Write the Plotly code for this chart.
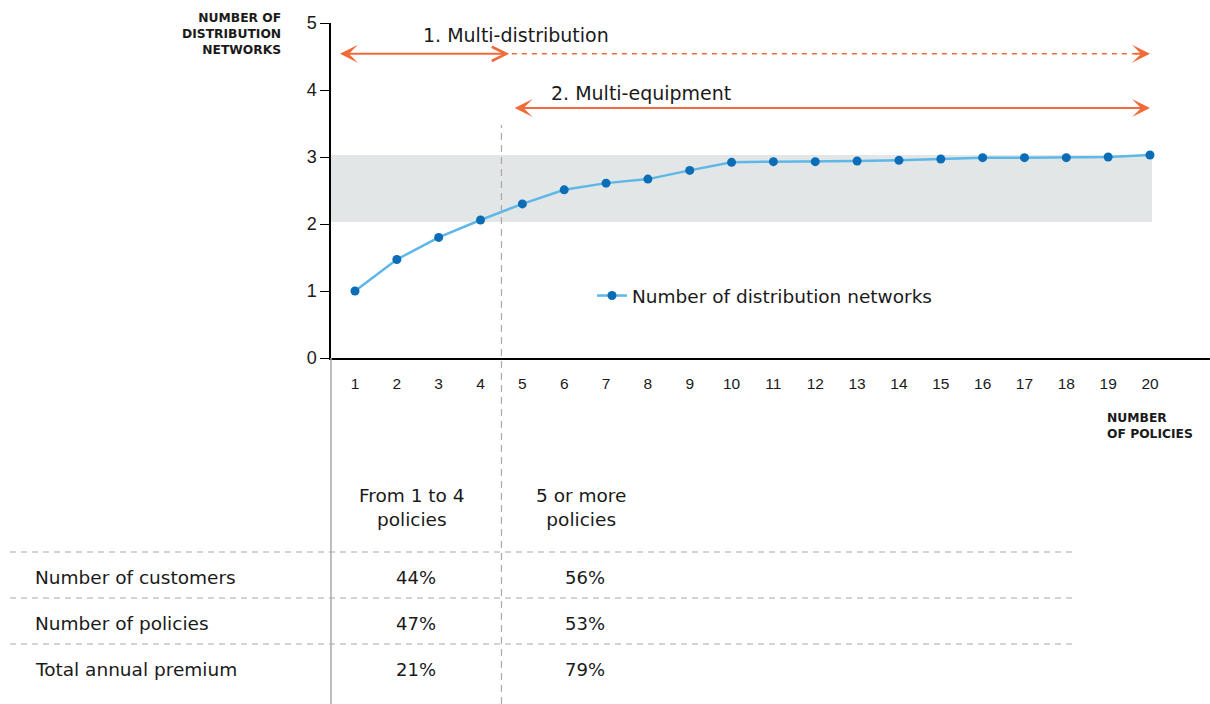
import plotly.graph_objects as go

# ---------------- data ----------------
policies = list(range(1, 21))
networks = [1.00, 1.47, 1.80, 2.06, 2.30, 2.51, 2.61, 2.67, 2.80, 2.92,
            2.93, 2.93, 2.94, 2.95, 2.97, 2.99, 2.99, 2.99, 3.00, 3.03]
series_name = "Number of distribution networks"
band_range = [2.03, 3.03]
split_at = 4.5

row_labels = ["Number of customers", "Number of policies", "Total annual premium"]
col_headers = ["From 1 to 4<br>policies", "5 or more<br>policies"]
col_low = ["44%", "47%", "21%"]
col_high = ["56%", "53%", "79%"]

y_ticks = [0, 1, 2, 3, 4, 5]

FONT = "DejaVu Sans, Verdana, sans-serif"
AXFONT = "Liberation Sans, Arial, Helvetica, sans-serif"
TXT = "#1a1a1a"
ORANGE = "#F26A3A"
LINE = "#5DB7E8"
MARK = "#0A6DB5"

W, H = 1210, 704
L, R, T, B = 331, 0, 23, 346
PW, PH = W - L - R, H - T - B

def px_x(px):
    return (px - L) / PW

def px_y(py):
    return (H - B - py) / PH

fig = go.Figure()

fig.add_trace(go.Scatter(
    x=policies, y=networks, mode="lines+markers", name=series_name,
    line=dict(color=LINE, width=2.5),
    marker=dict(color=MARK, size=9),
))

# gray band
fig.add_shape(type="rect", xref="paper", yref="y", x0=0, x1=px_x(1152),
              y0=band_range[0], y1=band_range[1], fillcolor="#E3E6E7",
              line=dict(width=0), layer="below")

# vertical dashed split line
fig.add_shape(type="line", xref="x", yref="paper", x0=split_at, x1=split_at,
              y0=px_y(704), y1=px_y(125),
              line=dict(color="#A8A8A8", width=1.2, dash="7px,5px"))
# solid gray line continuing the y axis
fig.add_shape(type="line", xref="paper", yref="paper", x0=0, x1=0,
              y0=px_y(704), y1=0, line=dict(color="#A8A8A8", width=1.5))

# arrows
y_a1 = 4.54
y_a2 = 3.73
fig.add_annotation(x=0.64, y=y_a1, ax=4.72, ay=y_a1, axref="x", ayref="y",
                   xref="x", yref="y", text="", showarrow=True,
                   arrowhead=3, arrowsize=1.5, arrowwidth=2, arrowcolor=ORANGE,
                   startarrowhead=5, startarrowsize=1.4, arrowside="end+start")
fig.add_shape(type="line", xref="x", yref="y", x0=4.75, x1=19.7, y0=y_a1, y1=y_a1,
              line=dict(color=ORANGE, width=1.5, dash="5px,5px"))
fig.add_annotation(x=20.0, y=y_a1, ax=19.6, ay=y_a1, axref="x", ayref="y",
                   xref="x", yref="y", text="", showarrow=True,
                   arrowhead=3, arrowsize=1.5, arrowwidth=2, arrowcolor=ORANGE)
fig.add_annotation(x=20.0, y=y_a2, ax=4.78, ay=y_a2, axref="x", ayref="y",
                   xref="x", yref="y", text="", showarrow=True,
                   arrowhead=3, arrowsize=1.5, arrowwidth=2, arrowcolor=ORANGE,
                   startarrowhead=3, startarrowsize=1.5, arrowside="end+start")

fig.add_annotation(x=px_x(516), y=px_y(35), xref="paper", yref="paper",
                   xanchor="center", yanchor="middle",
                   text="1. Multi-distribution", showarrow=False,
                   font=dict(size=19, color=TXT, family=FONT))
fig.add_annotation(x=px_x(641), y=px_y(93), xref="paper", yref="paper",
                   xanchor="center", yanchor="middle",
                   text="2. Multi-equipment", showarrow=False,
                   font=dict(size=19, color=TXT, family=FONT))

# axis titles
fig.add_annotation(x=px_x(283), y=px_y(9), xref="paper", yref="paper",
                   xanchor="right", yanchor="top", align="right",
                   text="<b>NUMBER OF<br>DISTRIBUTION<br>NETWORKS</b>", showarrow=False,
                   font=dict(size=12.3, color=TXT, family=FONT))
fig.add_annotation(x=px_x(1105), y=px_y(409), xref="paper", yref="paper",
                   xanchor="left", yanchor="top", align="left",
                   text="<b>NUMBER<br>OF POLICIES</b>", showarrow=False,
                   font=dict(size=12.3, color=TXT, family=FONT))

# table
for py in [552, 598, 644]:
    fig.add_shape(type="line", xref="paper", yref="paper", x0=px_x(10), x1=px_x(1073),
                  y0=px_y(py), y1=px_y(py),
                  line=dict(color="#A8A8A8", width=1.2, dash="6px,5px"))

col_x = [412, 581]
for cx, hdr in zip(col_x, col_headers):
    fig.add_annotation(x=px_x(cx), y=px_y(507), xref="paper", yref="paper",
                       xanchor="center", yanchor="middle",
                       text=hdr, showarrow=False, align="center",
                       font=dict(size=18.5, color=TXT, family=FONT))

row_y = [577, 623, 669]
for ry, lab, v1, v2 in zip(row_y, row_labels, col_low, col_high):
    fig.add_annotation(x=px_x(33), y=px_y(ry), xref="paper", yref="paper",
                       xanchor="left", yanchor="middle", text=lab, showarrow=False,
                       font=dict(size=18.5, color=TXT, family=FONT))
    fig.add_annotation(x=px_x(416), y=px_y(ry), xref="paper", yref="paper",
                       xanchor="center", yanchor="middle",
                       text=v1, showarrow=False,
                       font=dict(size=18, color=TXT, family=FONT))
    fig.add_annotation(x=px_x(585), y=px_y(ry), xref="paper", yref="paper",
                       xanchor="center", yanchor="middle",
                       text=v2, showarrow=False,
                       font=dict(size=18, color=TXT, family=FONT))

x0 = 1 - (355 - L) / 41.84
x1 = 20 + (W - R - 1150) / 41.84

fig.update_layout(
    width=W, height=H,
    margin=dict(l=L, r=R, t=T, b=B, pad=0),
    paper_bgcolor="white", plot_bgcolor="white",
    font=dict(family=FONT, color=TXT),
    showlegend=True,
    legend=dict(x=px_x(592), y=px_y(296), xanchor="left", yanchor="middle",
                bgcolor="rgba(0,0,0,0)", font=dict(size=18.5, color=TXT, family=FONT)),
    xaxis=dict(range=[x0, x1], tickmode="array", tickvals=policies,
               ticktext=[str(p) for p in policies], showgrid=False, zeroline=False,
               showline=True, linecolor="black", linewidth=1.5,
               ticks="outside", ticklen=11, tickcolor="rgba(0,0,0,0)",
               tickfont=dict(size=15.5, color=TXT, family=AXFONT)),
    yaxis=dict(range=[0, 5], tickvals=y_ticks, showgrid=False, zeroline=False,
               showline=True, linecolor="black", linewidth=1.5,
               ticks="outside", ticklen=9, tickcolor="black", tickwidth=1.2,
               tickfont=dict(size=18, color=TXT, family=AXFONT)),
)

fig.write_html("out.html", config={"displayModeBar": False},
               post_script="document.body.style.margin='0px';")
